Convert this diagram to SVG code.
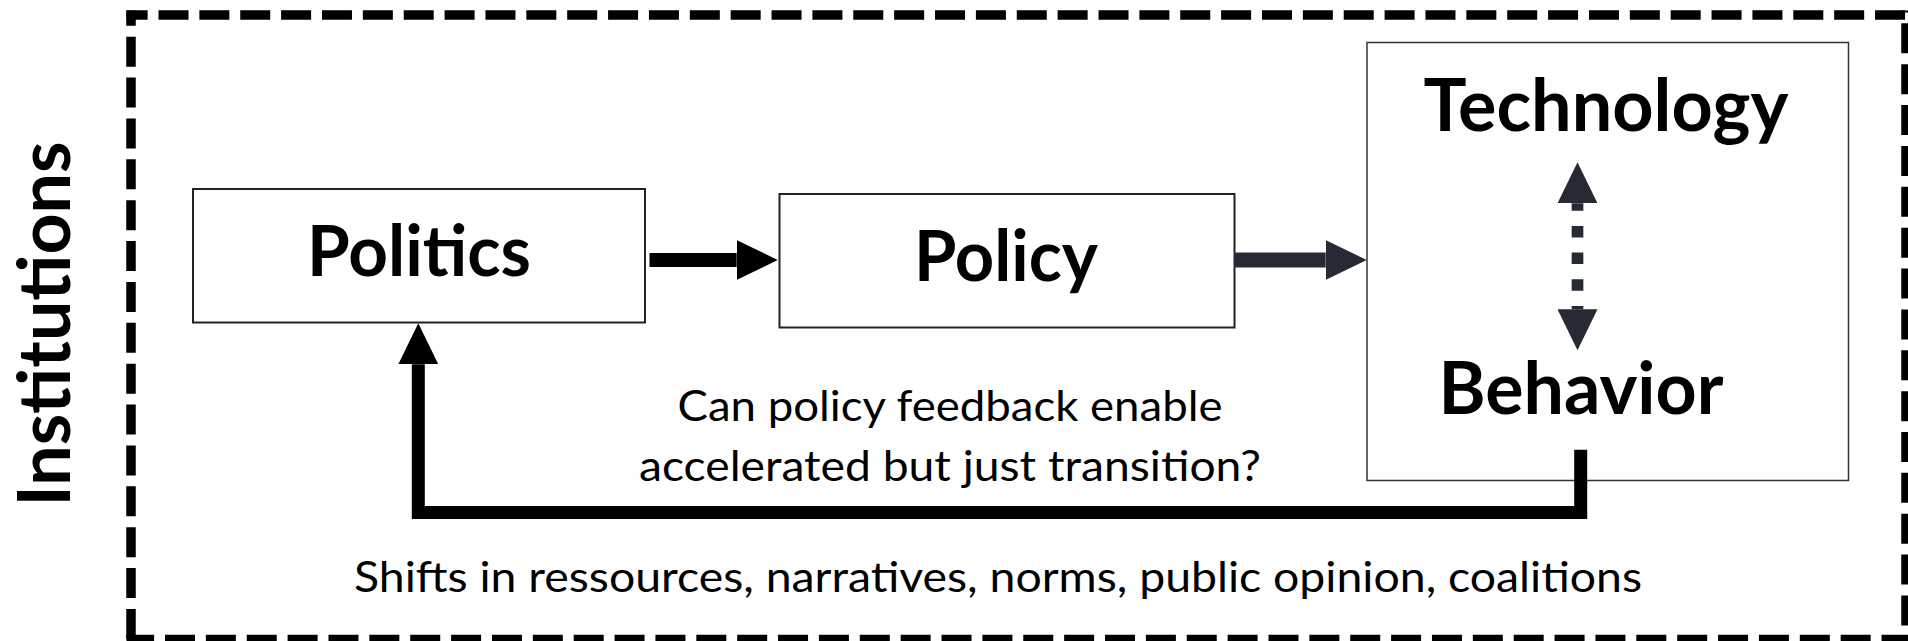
<svg xmlns="http://www.w3.org/2000/svg" width="1908" height="641" viewBox="0 0 1908 641">
  <style>
    .box { fill: #ffffff; stroke: #222222; stroke-width: 2; }
    .bold { font-family: Lato, "Liberation Sans", sans-serif; font-weight: 700; fill: #000000; }
    .reg { font-family: Lato, "Liberation Sans", sans-serif; font-weight: 400; fill: #000000; }
    .frame { stroke: #000000; stroke-width: 9.5; stroke-dasharray: 30 10.87; fill: none; }
  </style>
  <defs>
    <marker id="headBlack" viewBox="0 0 41 40" markerWidth="41" markerHeight="40" refX="0" refY="20" orient="auto" markerUnits="userSpaceOnUse">
      <path d="M0,0 L41,20 L0,40 Z" fill="#000000"/>
    </marker>
    <marker id="headSlate" viewBox="0 0 41 40" markerWidth="41" markerHeight="40" refX="0" refY="20" orient="auto-start-reverse" markerUnits="userSpaceOnUse">
      <path d="M0,0 L41,20 L0,40 Z" fill="#252a34"/>
    </marker>
  </defs>

  <g id="institutions-frame">
    <line class="frame" x1="126.5" y1="15" x2="1908" y2="15" stroke-dashoffset="8.87"/>
    <line class="frame" x1="131" y1="10.5" x2="131" y2="641" stroke-dashoffset="14.67"/>
    <line class="frame" x1="126.5" y1="639.5" x2="1908" y2="639.5" stroke-dashoffset="2.37"/>
    <line class="frame" x1="1906" y1="10.5" x2="1906" y2="641" stroke-dashoffset="28.07"/>
    <text class="bold" transform="translate(70,324) rotate(-90)" x="0" y="0" font-size="72" text-anchor="middle" textLength="365" lengthAdjust="spacingAndGlyphs">Institutions</text>
  </g>

  <g id="politics">
    <rect class="box" x="193" y="189" width="452" height="133.5"/>
    <text class="bold" x="419" y="276" font-size="70" text-anchor="middle" textLength="224" lengthAdjust="spacingAndGlyphs">Politics</text>
  </g>

  <g id="policy">
    <rect class="box" x="779.5" y="194" width="455" height="133.5"/>
    <text class="bold" x="1006" y="281" font-size="70" text-anchor="middle" textLength="184" lengthAdjust="spacingAndGlyphs">Policy</text>
  </g>

  <g id="technology-behavior">
    <rect x="1367" y="42.5" width="481.5" height="438" fill="#ffffff" stroke="#333333" stroke-width="1.5"/>
    <text class="bold" x="1606" y="130.5" font-size="72" text-anchor="middle" textLength="365" lengthAdjust="spacingAndGlyphs">Technology</text>
    <text class="bold" x="1581" y="413.5" font-size="72" text-anchor="middle" textLength="285" lengthAdjust="spacingAndGlyphs">Behavior</text>
  </g>

  <g id="connectors">
    <line x1="649.5" y1="260" x2="736.7" y2="260" stroke="#000000" stroke-width="14" marker-end="url(#headBlack)"/>
    <line x1="1234.5" y1="260" x2="1325.7" y2="260" stroke="#252a34" stroke-width="15" marker-end="url(#headSlate)"/>
    <line x1="1577.5" y1="203.3" x2="1577.5" y2="309.3" stroke="#252a34" stroke-width="11.7" stroke-dasharray="11.5 15.2" stroke-dashoffset="4.1" marker-start="url(#headSlate)" marker-end="url(#headSlate)"/>
    <polyline points="1580.7,449.7 1580.7,512.6 418.3,512.6 418.3,364.3" fill="none" stroke="#000000" stroke-width="13" stroke-linejoin="miter" marker-end="url(#headBlack)"/>
  </g>

  <g id="labels">
    <text class="reg" x="950" y="421" font-size="42" text-anchor="middle" textLength="545" lengthAdjust="spacingAndGlyphs">Can policy feedback enable</text>
    <text class="reg" x="950" y="481" font-size="42" text-anchor="middle" textLength="622" lengthAdjust="spacingAndGlyphs">accelerated but just transition?</text>
    <text class="reg" x="998" y="592" font-size="42" text-anchor="middle" textLength="1288" lengthAdjust="spacingAndGlyphs">Shifts in ressources, narratives, norms, public opinion, coalitions</text>
  </g>
</svg>
